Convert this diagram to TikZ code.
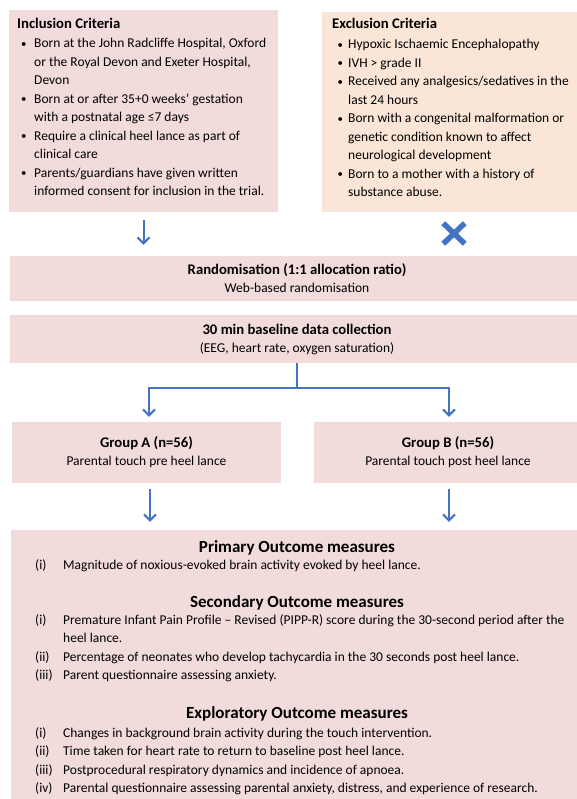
\documentclass[tikz,border=0pt]{standalone}
\usepackage{fontspec}
\setmainfont{Carlito}
\usetikzlibrary{arrows.meta,positioning,shapes.misc,calc}
\definecolor{boxpink}{HTML}{F2DCDB}
\definecolor{boxpeach}{HTML}{FBE5D6}
\definecolor{flowblue}{HTML}{4472C4}
\tikzset{
  panel/.style={rectangle, fill=boxpink, draw=none, inner sep=0pt, align=center,
    font=\fontsize{13.5}{18}\selectfont},
  body/.style={inner sep=0pt, anchor=base west, font=\fontsize{13.5}{18.5}\selectfont},
  outhead/.style={inner sep=0pt, anchor=base, font=\fontsize{17}{21}\selectfont\bfseries},
  flow/.style={-{Straight Barb[length=6pt,width=12pt]}, draw=flowblue, line width=2pt},
  xmark/.style={cross out, draw=flowblue, line width=5.5pt, minimum width=16pt,
    minimum height=15pt, inner sep=0pt},
}
\newcommand{\boxhd}[1]{{\fontsize{14.7}{18}\selectfont\bfseries #1}}
\newcommand{\bul}{\raisebox{0.6pt}{\scalebox{0.8}{\textbullet}}}
\newcommand{\bulletrows}[2]{\begin{tabular}[t]{@{}p{#1}@{}l@{}}#2\end{tabular}}
\newcommand{\romanrows}[1]{\begin{tabular}[t]{@{}p{28pt}@{}l@{}}#1\end{tabular}}

\begin{document}
\begin{tikzpicture}[x=1pt, y=-1pt]
  \useasboundingbox (0,0) rectangle (577,799);
  % criteria
  \node[panel, minimum width=269pt, minimum height=202pt] (incl) at (143.5,111) {};
  \node[panel, fill=boxpeach, minimum width=255pt, minimum height=200pt] (excl) at (449.5,112) {};
  \node[body] (inclhd) at (17,29) {\boxhd{Inclusion Criteria}};
  \node[body] (incllist) at (21,48) {\bulletrows{13pt}{%
    \bul & Born at the John Radcliffe Hospital, Oxford\\
    & or the Royal Devon and Exeter Hospital,\\
    & Devon\\
    \bul & Born at or after 35+0 weeks’ gestation\\
    & with a postnatal age ≤7 days\\
    \bul & Require a clinical heel lance as part of\\
    & clinical care\\
    \bul & Parents/guardians have given written\\
    & informed consent for inclusion in the trial.}};
  \node[body] (exclhd) at (332,29) {\boxhd{Exclusion Criteria}};
  \node[body] (excllist) at (337.5,49) {\bulletrows{10.5pt}{%
    \bul & Hypoxic Ischaemic Encephalopathy\\
    \bul & IVH > grade II\\
    \bul & Received any analgesics/sedatives in the\\
    & last 24 hours\\
    \bul & Born with a congenital malformation or\\
    & genetic condition known to affect\\
    & neurological development\\
    \bul & Born to a mother with a history of\\
    & substance abuse.}};
  % flow
  \node[panel, minimum width=574pt, minimum height=45pt] (rand) at (297,278.5)
    {\boxhd{Randomisation (1:1 allocation ratio)}\\Web-based randomisation};
  \node[panel, minimum width=574pt, minimum height=48pt] (base) at (297,339)
    {\boxhd{30 min baseline data collection}\\(EEG, heart rate, oxygen saturation)};
  \node[panel, minimum width=269pt, minimum height=61pt] (grpA) at (146.5,452.5)
    {\boxhd{Group A (n=56)}\\Parental touch pre heel lance};
  \node[panel, minimum width=268pt, minimum height=61pt] (grpB) at (448,452.5)
    {\boxhd{Group B (n=56)}\\Parental touch post heel lance};
  \node[panel, minimum width=572pt, minimum height=269pt] (outc) at (297,664.5) {};
  \node[xmark] (nogo) at (454,233.5) {};
  \coordinate (split) at (297,388);
  \draw[flow, shorten <=8pt, shorten >=11pt] (incl.south) -- (incl.south |- rand.north);
  \draw[flow, -] (split |- base.south) -- (split);
  \draw[flow, shorten >=5pt] (split) -| ([xshift=2.5pt]grpA.north);
  \draw[flow, shorten >=5pt] (split) -| ([xshift=1pt]grpB.north);
  \draw[flow, shorten <=6pt, shorten >=8pt] ([xshift=3.5pt]grpA.south) -- ([xshift=3.5pt]grpA.south |- outc.north);
  \draw[flow, shorten <=6pt, shorten >=8pt] ([xshift=1pt]grpB.south) -- ([xshift=1pt]grpB.south |- outc.north);
  % outcomes
  \node[outhead] (prihd) at (297,552) {Primary Outcome measures};
  \node[body] (prilist) at (35,569) {\romanrows{%
    (i) & Magnitude of noxious-evoked brain activity evoked by heel lance.}};
  \node[outhead] (sechd) at (297,607) {Secondary Outcome measures};
  \node[body] (seclist) at (35,624) {\romanrows{%
    (i) & Premature Infant Pain Profile – Revised (PIPP-R) score during the 30-second period after the\\
    & heel lance.\\
    (ii) & Percentage of neonates who develop tachycardia in the 30 seconds post heel lance.\\
    (iii) & Parent questionnaire assessing anxiety.}};
  \node[outhead] (exphd) at (297,718) {Exploratory Outcome measures};
  \node[body] (explist) at (35,737) {\romanrows{%
    (i) & Changes in background brain activity during the touch intervention.\\
    (ii) & Time taken for heart rate to return to baseline post heel lance.\\
    (iii) & Postprocedural respiratory dynamics and incidence of apnoea.\\
    (iv) & Parental questionnaire assessing parental anxiety, distress, and experience of research.}};
\end{tikzpicture}
\end{document}
